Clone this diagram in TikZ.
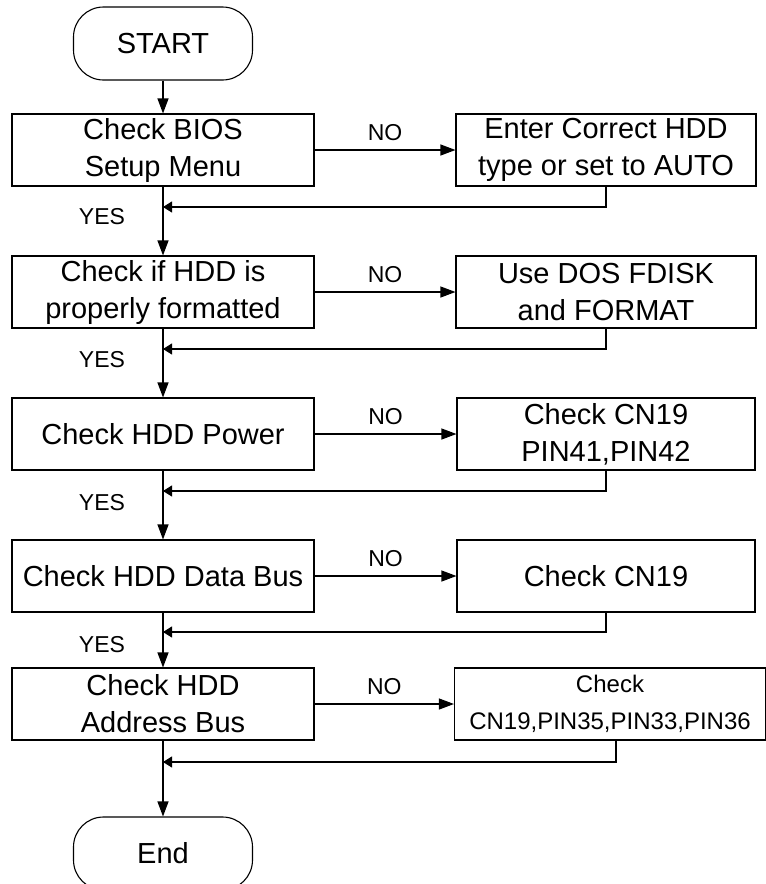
\documentclass[tikz,border=0pt]{standalone}
\usepackage{fontspec}
\setmainfont{Liberation Sans}
\usetikzlibrary{arrows.meta}
\begin{document}
\begin{tikzpicture}[x=1pt,y=-1pt,>={Triangle[length=15pt,width=11pt]},step box/.style={draw, line width=1.1pt, minimum width=302pt, minimum height=72pt, inner sep=0pt, align=center, font=\fontsize{29}{37}\selectfont},terminal/.style={draw, line width=1.1pt, rounded corners=30pt, minimum width=179pt, minimum height=73pt, font=\fontsize{29}{32}\selectfont},flow/.style={->, line width=1.1pt},back/.style={-{Triangle[length=9pt,width=11pt]}, line width=1.1pt},answer/.style={font=\fontsize{23}{26}\selectfont}]
\useasboundingbox (0,0) rectangle (766,884);
\node[terminal] (start) at (163,43.5) {START};
\node[step box] (bios) at (163,150) {Check BIOS\\Setup Menu}; \node[step box, minimum width=300pt] (fixbios) at (606,150) {Enter Correct HDD\\type or set to AUTO};
\node[step box] (fmt) at (163,292) {Check if HDD is\\properly formatted}; \node[step box, minimum width=300pt] (fixfmt) at (606,292) {Use DOS FDISK\\and FORMAT};
\node[step box] (power) at (163,434) {Check HDD Power}; \node[step box, minimum width=298pt] (fixpower) at (606,434) {Check CN19\\PIN41,PIN42};
\node[step box] (data) at (163,576) {Check HDD Data Bus}; \node[step box, minimum width=298pt] (fixdata) at (606,576) {Check CN19};
\node[step box] (addr) at (163,704) {Check HDD\\Address Bus}; \node[step box, minimum width=311pt, font=\fontsize{24}{37}\selectfont] (fixaddr) at (610,704) {Check\\CN19,PIN35,PIN33,PIN36};
\node[terminal] (stop) at (163,853.5) {End};
% joins on the main line
\coordinate (j1) at (163,207); \coordinate (j2) at (163,349); \coordinate (j3) at (163,491); \coordinate (j4) at (163,632); \coordinate (j5) at (163,762);
\draw[flow] (start) -- (bios); \draw[flow] (bios) -- (fmt); \draw[flow] (fmt) -- (power); \draw[flow] (power) -- (data); \draw[flow] (data) -- (addr); \draw[flow] (addr) -- (stop);
\draw[flow] (bios) -- (fixbios) node[midway, above=5pt, answer] {NO};
\draw[flow] (fmt) -- (fixfmt) node[midway, above=5pt, answer] {NO};
\draw[flow] (power) -- (fixpower) node[midway, above=5pt, answer] {NO};
\draw[flow] (data) -- (fixdata) node[midway, above=5pt, answer] {NO};
\draw[flow] (addr) -- (fixaddr) node[midway, above=5pt, answer] {NO};
\draw[back] (fixbios.south) |- (j1); \draw[back] (fixfmt.south) |- (j2); \draw[back] (fixpower.south) |- (j3); \draw[back] (fixdata.south) |- (j4); \draw[back] ([xshift=6pt]fixaddr.south) |- (j5);
\node[answer] (yes1) at (102,217) {YES}; \node[answer] (yes2) at (102,360) {YES}; \node[answer] (yes3) at (102,503) {YES}; \node[answer] (yes4) at (102,645) {YES};
\end{tikzpicture}
\end{document}
